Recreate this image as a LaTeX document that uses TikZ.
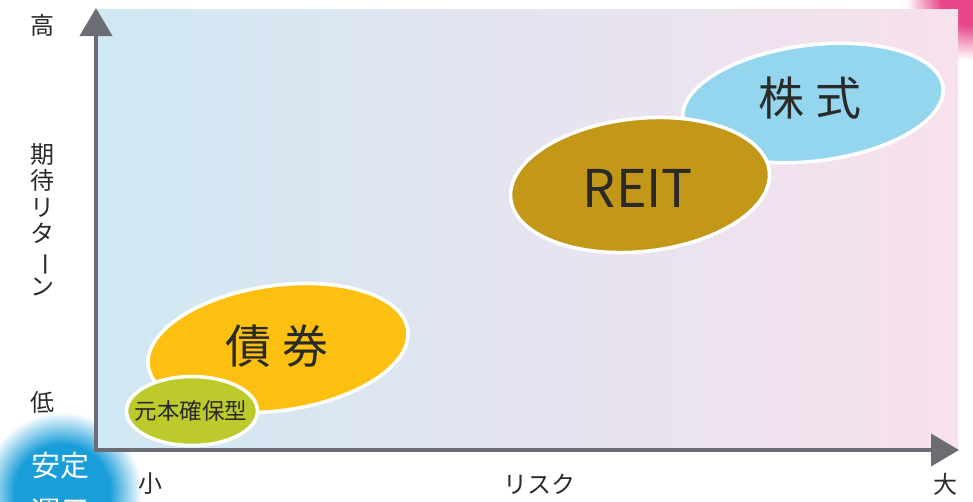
\documentclass[tikz,border=0pt]{standalone}
\usepackage{fontspec}
\newfontfamily\jp{Noto Sans CJK JP}
\usetikzlibrary{shapes.geometric,arrows.meta}
\definecolor{bgL}{HTML}{CFE8F3}
\definecolor{bgR}{HTML}{F7E1EC}
\definecolor{axisgray}{HTML}{6C6D74}
\definecolor{kabu}{HTML}{94D6EE}
\definecolor{reit}{HTML}{C39717}
\definecolor{sai}{HTML}{FDC010}
\definecolor{gan}{HTML}{BCCB2B}
\definecolor{txt}{HTML}{2A2A2A}
\definecolor{glowblue}{HTML}{1A9ED9}
\definecolor{glowpink}{HTML}{E8468B}
\pgfdeclareradialshading{blueglow}{\pgfpoint{0bp}{0bp}}{color(0bp)=(glowblue); color(15bp)=(glowblue); color(25bp)=(white); color(50bp)=(white)}
\pgfdeclareradialshading{pinkglow}{\pgfpoint{0bp}{0bp}}{color(0bp)=(glowpink); color(11bp)=(glowpink); color(25bp)=(white); color(50bp)=(white)}
\tikzset{
  blob/.style={ellipse, draw=white, line width=3.5pt, inner sep=0pt, text=txt},
  axislbl/.style={text=txt, font=\jp\fontsize{24}{26.5}\selectfont},
  axisline/.style={draw=axisgray, line width=4pt, -{Triangle[length=28pt,width=32pt]}},
}
\begin{document}
\begin{tikzpicture}[x=1pt,y=-1pt]
\useasboundingbox (0,0) rectangle (973,501);
\fill[white] (0,0) rectangle (973,501);
% glows
\shade[shading=blueglow] (62,492) circle (80);
\shade[shading=pinkglow] (968,-2) circle (62);
% background panel
\shade[left color=bgL, right color=bgR, middle color={rgb,255:red,228;green,228;blue,240}] (97,9) rectangle (958,449);
% axes
\coordinate (O) at (96,450);
\coordinate (ytip) at (96,8);
\coordinate (xtip) at (959,450);
\draw[axisline] ([yshift=2pt]O) -- (ytip);
\draw[axisline] ([xshift=-2pt]O) -- (xtip);
% ellipses
\node[blob, fill=kabu, minimum width=262pt, minimum height=116pt, rotate=7] (kabu) at (813,103) {};
\node[text=txt, font=\jp\fontsize{46}{46}\selectfont] (kabut) at (810,98) {株\hspace{0.25em}式};
\node[blob, fill=reit, minimum width=260pt, minimum height=133pt, rotate=6] (reit) at (640,185) {};
\node[text=txt, font=\jp\fontsize{52}{52}\selectfont] (reitt) at (638,188) {REIT};
\node[blob, fill=sai, minimum width=262pt, minimum height=125pt, rotate=8] (sai) at (278,348) {};
\node[text=txt, font=\jp\fontsize{46}{46}\selectfont] (sait) at (277,346) {債\hspace{0.25em}券};
\node[blob, fill=gan, minimum width=131pt, minimum height=69pt] (gan) at (192,411) {};
\node[text=txt, font=\jp\fontsize{22.5}{23}\selectfont] (gant) at (191,411) {元本確保型};
% axis labels
\node[axislbl] (hi) at (42,25) {高};
\node[axislbl, align=center] (ret) at (42,220) {期\\待\\リ\\タ\\\rotatebox[origin=c]{-90}{ー}\\ン};
\node[axislbl] (lo) at (42,402) {低};
\node[axislbl] (sm) at (150,484) {小};
\node[axislbl] (risk) at (539,484) {リスク};
\node[axislbl] (bg) at (945,484) {大};
% glow labels
\node[text=white, font=\jp\fontsize{29}{29}\selectfont] (antei) at (60,466) {安定};
\node[text=white, font=\jp\fontsize{29}{29}\selectfont] (unyo) at (60,512) {運用};
\end{tikzpicture}
\end{document}
